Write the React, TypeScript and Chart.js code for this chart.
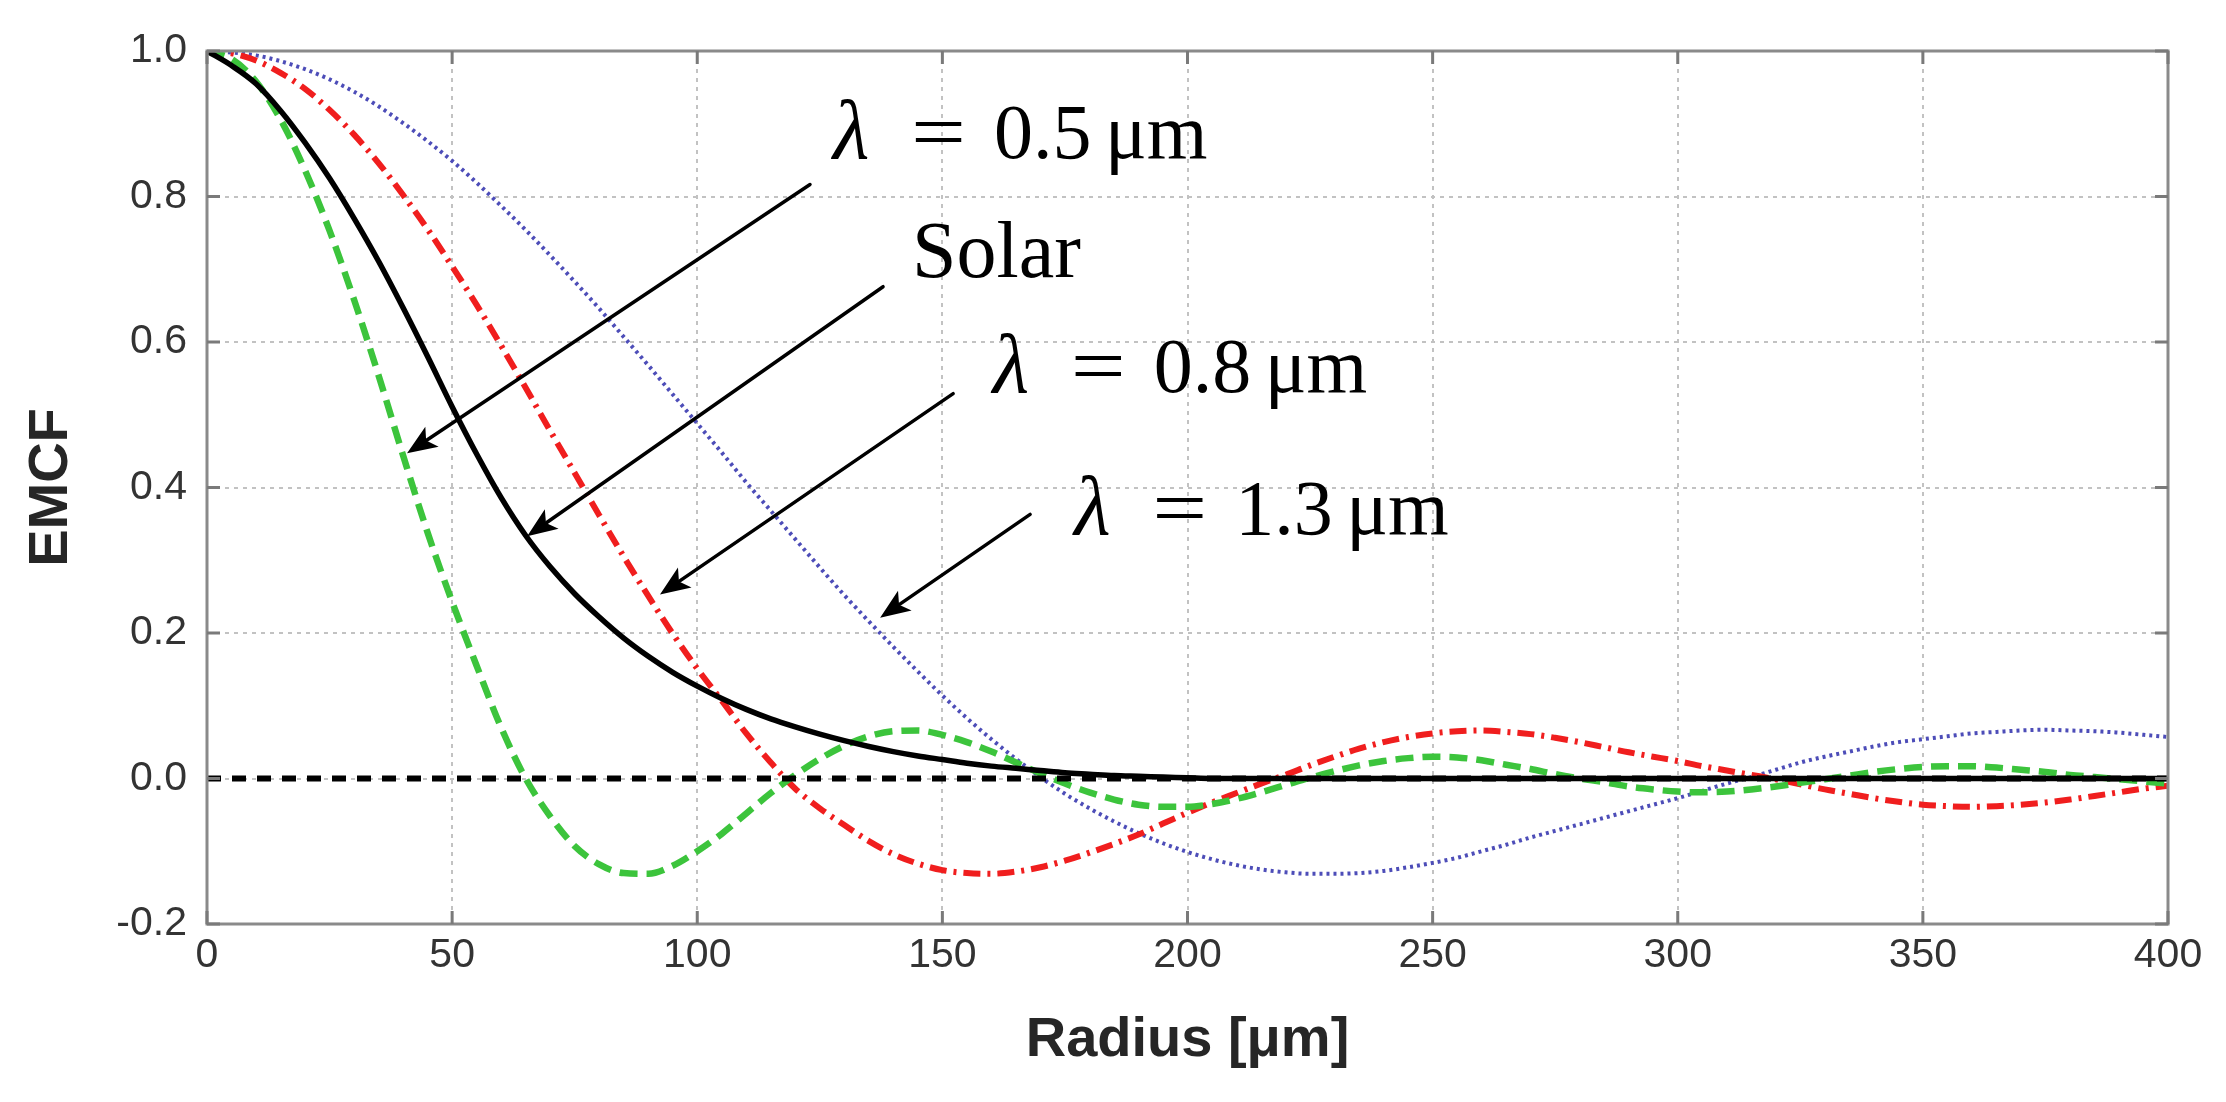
import { useEffect, useRef } from 'react';
import { Chart, registerables } from 'chart.js';

Chart.register(...registerables);

// ---------- data ----------
const radius = [
  0, 5, 10, 15, 20, 25, 30, 35, 40, 45, 50, 55, 60, 65, 70, 75, 80, 85, 90, 95,
  100, 105, 110, 115, 120, 125, 130, 135, 140, 145, 150, 155, 160, 165, 170, 175, 180, 185, 190, 195,
  200, 205, 210, 215, 220, 225, 230, 235, 240, 245, 250, 255, 260, 265, 270, 275, 280, 285, 290, 295,
  300, 305, 310, 315, 320, 325, 330, 335, 340, 345, 350, 355, 360, 365, 370, 375, 380, 385, 390, 395,
  400,
];

const emcfSolar = [
  1.0, 0.98, 0.955, 0.918, 0.874, 0.825, 0.77, 0.711, 0.647, 0.58, 0.511, 0.446, 0.386, 0.334, 0.291, 0.254, 0.222, 0.193, 0.168, 0.146,
  0.127, 0.11, 0.095, 0.082, 0.071, 0.061, 0.052, 0.044, 0.037, 0.031, 0.026, 0.021, 0.017, 0.014, 0.011, 0.008, 0.006, 0.004, 0.003, 0.002,
  0.001, 0, 0, 0, 0, 0, 0, 0, 0, 0, 0, 0, 0, 0, 0, 0, 0, 0, 0, 0,
  0, 0, 0, 0, 0, 0, 0, 0, 0, 0, 0, 0, 0, 0, 0, 0, 0, 0, 0, 0,
  0,
];

const emcf05 = [
  1.0, 0.989, 0.958, 0.906, 0.836, 0.753, 0.658, 0.554, 0.444, 0.338, 0.243, 0.155, 0.07, 0.0, -0.052, -0.093, -0.118, -0.13, -0.131, -0.12,
  -0.1, -0.076, -0.048, -0.02, 0.005, 0.027, 0.045, 0.058, 0.065, 0.066, 0.06, 0.05, 0.037, 0.022, 0.007, -0.007, -0.019, -0.029, -0.036, -0.039,
  -0.039, -0.035, -0.028, -0.019, -0.009, 0.001, 0.01, 0.018, 0.024, 0.028, 0.03, 0.029, 0.025, 0.019, 0.013, 0.006, 0.0, -0.005, -0.011, -0.015,
  -0.018, -0.019, -0.018, -0.015, -0.011, -0.006, -0.001, 0.004, 0.009, 0.013, 0.016, 0.017, 0.017, 0.015, 0.012, 0.009, 0.005, 0.002, -0.001, -0.004,
  -0.007,
];

const emcf08 = [
  1.0, 0.997, 0.987, 0.97, 0.948, 0.919, 0.885, 0.846, 0.802, 0.755, 0.704, 0.651, 0.595, 0.537, 0.478, 0.42, 0.362, 0.305, 0.251, 0.199,
  0.151, 0.107, 0.062, 0.022, -0.014, -0.041, -0.064, -0.086, -0.104, -0.117, -0.126, -0.13, -0.131, -0.128, -0.122, -0.113, -0.102, -0.09, -0.077, -0.062,
  -0.047, -0.033, -0.02, -0.007, 0.005, 0.018, 0.03, 0.041, 0.05, 0.057, 0.062, 0.065, 0.066, 0.064, 0.061, 0.056, 0.05, 0.043, 0.036, 0.03,
  0.024, 0.017, 0.011, 0.005, -0.001, -0.008, -0.015, -0.021, -0.027, -0.032, -0.036, -0.038, -0.039, -0.038, -0.036, -0.033, -0.029, -0.024, -0.019, -0.014,
  -0.01,
];

const emcf13 = [
  1.0, 0.998, 0.994, 0.986, 0.975, 0.961, 0.944, 0.924, 0.901, 0.876, 0.849, 0.819, 0.787, 0.754, 0.719, 0.683, 0.646, 0.607, 0.568, 0.528,
  0.488, 0.448, 0.407, 0.368, 0.329, 0.29, 0.252, 0.216, 0.181, 0.147, 0.114, 0.083, 0.054, 0.027, 0.002, -0.021, -0.041, -0.059, -0.075, -0.089,
  -0.101, -0.111, -0.119, -0.125, -0.129, -0.131, -0.131, -0.13, -0.127, -0.122, -0.116, -0.109, -0.1, -0.091, -0.081, -0.072, -0.063, -0.054, -0.045, -0.036,
  -0.027, -0.017, -0.007, 0.002, 0.012, 0.022, 0.03, 0.037, 0.044, 0.05, 0.054, 0.058, 0.062, 0.064, 0.066, 0.067, 0.066, 0.065, 0.063, 0.06,
  0.057,
];

const zeroLineR = [0, 400];
const zeroLineV = [0, 0];

// axis ranges / ticks
const xMin = 0;
const xMax = 400;
const xStep = 50;
const yMin = -0.2;
const yMax = 1.0;
const yStep = 0.2;

// annotations (data coordinates)
const labelSymbols = ['λ', '', 'λ', 'λ'];
const labelValues = ['0.5', 'Solar', '0.8', '1.3'];
const labelR = [128.5, 144.4, 161.1, 177.7];
const labelV = [0.8536, 0.69, 0.5306, 0.3354];
const arrowTailR = [123.0, 137.9, 152.2, 167.9];
const arrowTailV = [0.8165, 0.676, 0.529, 0.363];
const arrowHeadR = [40.8, 65.3, 92.4, 137.3];
const arrowHeadV = [0.447, 0.333, 0.253, 0.221];

// ---------- style ----------
const SANS = "'Liberation Sans', Arial, Helvetica, sans-serif";
const SERIF = "'Liberation Serif', 'Times New Roman', Times, serif";

const toPoints = (xs: number[], ys: number[]) => xs.map((x, i) => ({ x, y: ys[i] }));

function drawArrow(ctx: CanvasRenderingContext2D, x1: number, y1: number, x2: number, y2: number) {
  const ang = Math.atan2(y2 - y1, x2 - x1);
  const headLen = 30;
  const headHalf = 12;
  const bx = x2 - headLen * Math.cos(ang);
  const by = y2 - headLen * Math.sin(ang);
  const nx = Math.sin(ang);
  const ny = -Math.cos(ang);
  ctx.beginPath();
  ctx.moveTo(x1, y1);
  ctx.lineTo(bx + 6 * Math.cos(ang), by + 6 * Math.sin(ang));
  ctx.lineWidth = 3.5;
  ctx.lineCap = 'round';
  ctx.strokeStyle = '#000';
  ctx.stroke();
  ctx.beginPath();
  ctx.moveTo(x2, y2);
  ctx.lineTo(bx + headHalf * nx, by + headHalf * ny);
  ctx.lineTo(bx + 7 * Math.cos(ang), by + 7 * Math.sin(ang));
  ctx.lineTo(bx - headHalf * nx, by - headHalf * ny);
  ctx.closePath();
  ctx.fillStyle = '#000';
  ctx.fill();
}

const framePlugin = {
  id: 'emcfFrame',
  afterDatasetsDraw(chart: any) {
    const { ctx, chartArea, scales } = chart;
    const { left, right, top, bottom } = chartArea;
    const xs = scales.x;
    const ys = scales.y;
    ctx.save();
    ctx.strokeStyle = '#8a8a8a';
    ctx.lineWidth = 3;
    ctx.strokeRect(left, top, right - left, bottom - top);
    const tick = 13;
    ctx.strokeStyle = '#7a7a7a';
    ctx.lineWidth = 3;
    ctx.beginPath();
    for (const t of xs.ticks) {
      const px = xs.getPixelForValue(t.value);
      ctx.moveTo(px, bottom);
      ctx.lineTo(px, bottom - tick);
      ctx.moveTo(px, top);
      ctx.lineTo(px, top + tick);
    }
    for (const t of ys.ticks) {
      const py = ys.getPixelForValue(t.value);
      ctx.moveTo(left, py);
      ctx.lineTo(left + tick, py);
      ctx.moveTo(right, py);
      ctx.lineTo(right - tick, py);
    }
    ctx.stroke();
    ctx.restore();
  },
};

const annotationPlugin = {
  id: 'emcfAnnotations',
  afterDraw(chart: any) {
    const { ctx, scales } = chart;
    const xs = scales.x;
    const ys = scales.y;
    ctx.save();
    for (let i = 0; i < arrowTailR.length; i++) {
      drawArrow(
        ctx,
        xs.getPixelForValue(arrowTailR[i]),
        ys.getPixelForValue(arrowTailV[i]),
        xs.getPixelForValue(arrowHeadR[i]),
        ys.getPixelForValue(arrowHeadV[i])
      );
    }
    ctx.fillStyle = '#000';
    ctx.textBaseline = 'alphabetic';
    ctx.textAlign = 'left';
    for (let i = 0; i < labelValues.length; i++) {
      const px = xs.getPixelForValue(labelR[i]);
      const py = ys.getPixelForValue(labelV[i]);
      if (labelSymbols[i]) {
        ctx.font = `italic 84px ${SERIF}`;
        ctx.fillText(labelSymbols[i], px - 4, py);
        ctx.save();
        ctx.font = `78px ${SERIF}`;
        ctx.translate(px + 74, py);
        ctx.scale(1.25, 1);
        ctx.fillText('=', 0, 0);
        ctx.restore();
        ctx.font = `78px ${SERIF}`;
        ctx.fillText(labelValues[i], px + 157, py);
        ctx.fillText('μm', px + 268, py);
      } else {
        ctx.font = `80px ${SERIF}`;
        ctx.fillText(labelValues[i], px - 3, py);
      }
    }
    ctx.restore();
  },
};

export default function App() {
  const canvasRef = useRef<HTMLCanvasElement | null>(null);

  useEffect(() => {
    document.body.style.margin = '0';
    document.body.style.overflow = 'hidden';
    const canvas = canvasRef.current;
    if (!canvas) return;

    const chart = new Chart(canvas, {
      type: 'line',
      data: {
        datasets: [
          {
            label: 'λ = 1.3 μm',
            data: toPoints(radius, emcf13),
            borderColor: '#4d4db8',
            borderWidth: 4,
            borderDash: [3, 4],
            order: 5,
          },
          {
            label: 'λ = 0.8 μm',
            data: toPoints(radius, emcf08),
            borderColor: '#f01e1e',
            borderWidth: 6,
            borderDash: [17, 7, 3, 7],
            order: 4,
          },
          {
            label: 'λ = 0.5 μm',
            data: toPoints(radius, emcf05),
            borderColor: '#3cc43c',
            borderWidth: 6.5,
            borderDash: [18, 9],
            order: 3,
          },
          {
            label: 'zero',
            data: toPoints(zeroLineR, zeroLineV),
            borderColor: '#000',
            borderWidth: 6,
            borderDash: [14, 11],
            order: 2,
            cubicInterpolationMode: 'default',
            tension: 0,
          },
          {
            label: 'Solar',
            data: toPoints(radius, emcfSolar),
            borderColor: '#000',
            borderWidth: 5.5,
            order: 1,
          },
        ],
      },
      options: {
        responsive: false,
        animation: false,
        events: [],
        layout: { padding: { left: 0, top: 51, right: 58, bottom: 0 } },
        elements: {
          point: { radius: 0 },
          line: { cubicInterpolationMode: 'monotone', fill: false },
        },
        plugins: {
          legend: { display: false },
          tooltip: { enabled: false },
          title: { display: false },
        },
        scales: {
          x: {
            type: 'linear',
            min: xMin,
            max: xMax,
            ticks: {
              stepSize: xStep,
              padding: 7,
              color: '#333',
              maxRotation: 0,
              autoSkip: false,
              font: { family: SANS, size: 41 },
            },
            grid: { color: '#c2c2c2', lineWidth: 2, drawTicks: false },
            border: { display: false, dash: [4, 5] },
            title: {
              display: true,
              text: 'Radius [μm]',
              color: '#262626',
              font: { family: SANS, size: 56, weight: 'bold' },
              padding: { top: 0, bottom: 28 },
            },
            afterFit: (s: any) => {
              s.height = 178;
            },
          },
          y: {
            type: 'linear',
            min: yMin,
            max: yMax,
            ticks: {
              stepSize: yStep,
              padding: 20,
              color: '#333',
              font: { family: SANS, size: 41 },
              callback: (v: any) => {
                const n = Number(v);
                return (Math.abs(n) < 1e-9 ? 0 : n).toFixed(1);
              },
            },
            grid: { color: '#c2c2c2', lineWidth: 2, drawTicks: false },
            border: { display: false, dash: [4, 5] },
            title: {
              display: true,
              text: 'EMCF',
              color: '#262626',
              font: { family: SANS, size: 56, weight: 'bold' },
              padding: { top: 18, bottom: 0 },
            },
            afterFit: (s: any) => {
              s.width = 207;
            },
          },
        },
      } as any,
      plugins: [framePlugin, annotationPlugin],
    });

    return () => chart.destroy();
  }, []);

  return (
    <div style={{ position: 'fixed', left: 0, top: 0, width: 2226, height: 1102, background: '#fff' }}>
      <canvas ref={canvasRef} width={2226} height={1102} style={{ display: 'block', width: 2226, height: 1102 }} />
    </div>
  );
}
